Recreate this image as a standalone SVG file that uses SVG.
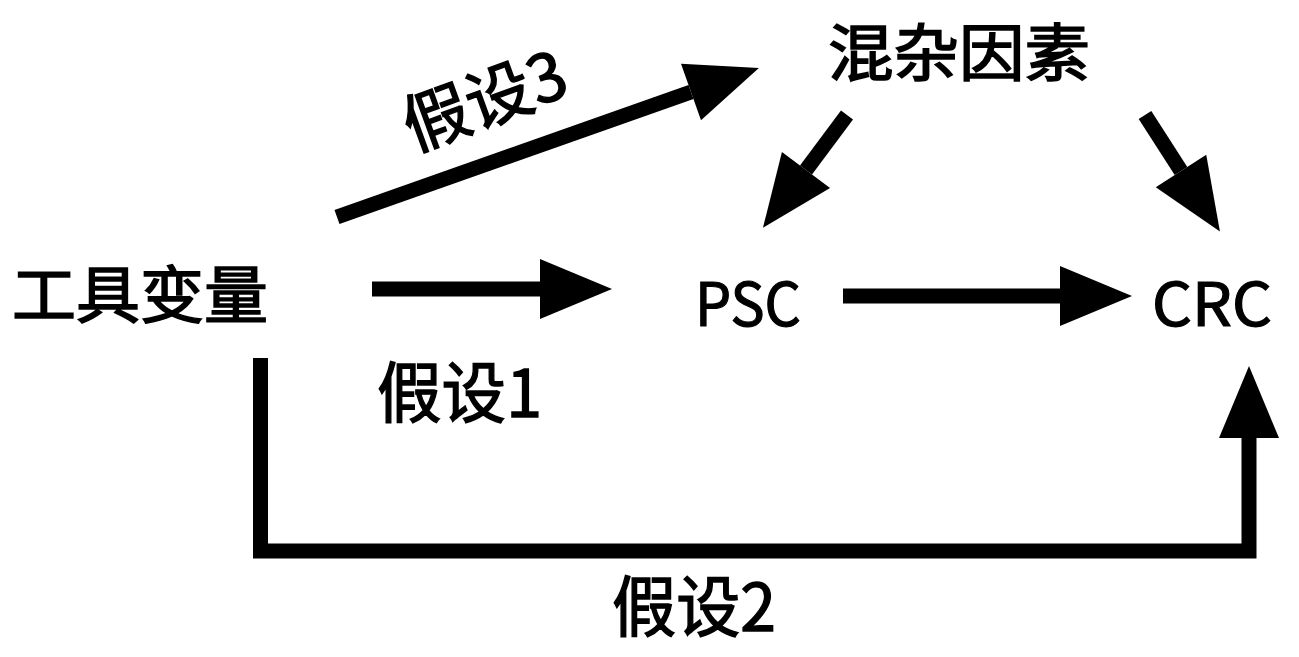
<svg xmlns="http://www.w3.org/2000/svg" width="1299" height="657" viewBox="0 0 1299 657">
<style>
.lbl{font-family:"Noto Sans CJK SC","Noto Sans",sans-serif;font-size:62px;font-weight:400;fill:#000;stroke:#000;stroke-width:1.6px}
.lat{font-family:"Noto Sans CJK SC","Noto Sans",sans-serif;font-size:60px;font-weight:400;fill:#000;stroke:#000;stroke-width:1.2px}
.hyp{font-family:"Noto Sans CJK SC","Noto Sans",sans-serif;font-size:66px;font-weight:400;fill:#000;stroke:#000;stroke-width:1.4px}
.edge{stroke:#000;stroke-width:15;fill:none;stroke-linecap:butt;stroke-linejoin:miter}
</style>
<defs>
<marker id="ah" markerUnits="userSpaceOnUse" markerWidth="74" markerHeight="60" refX="0" refY="30" orient="auto" overflow="visible">
<path d="M0,0 L72,30 L0,60 Z" fill="#000"/>
</marker>
</defs>
<rect width="1299" height="657" fill="#fff"/>
<g id="n-iv"><text class="lbl" x="12" y="318" textLength="256" lengthAdjust="spacingAndGlyphs">工具变量</text></g>
<g id="n-conf"><text class="lbl" x="828" y="76" textLength="262" lengthAdjust="spacingAndGlyphs">混杂因素</text></g>
<g id="n-psc"><text class="lat" x="748" y="326" text-anchor="middle" textLength="106" lengthAdjust="spacingAndGlyphs">PSC</text></g>
<g id="n-crc"><text class="lat" x="1212" y="326" text-anchor="middle" textLength="120" lengthAdjust="spacingAndGlyphs">CRC</text></g>
<g id="connectors">
<line class="edge" x1="372" y1="289" x2="540" y2="289" marker-end="url(#ah)"/>
<line class="edge" x1="843" y1="296" x2="1060" y2="296" marker-end="url(#ah)"/>
<line class="edge" x1="337" y1="217" x2="691" y2="92" marker-end="url(#ah)"/>
<line class="edge" x1="847" y1="115" x2="806" y2="170" marker-end="url(#ah)"/>
<line class="edge" x1="1145" y1="115" x2="1181" y2="171" marker-end="url(#ah)"/>
<path class="edge" d="M260.5,358 V551 H1249 V438" marker-end="url(#ah)"/>
</g>
<g id="labels">
<text class="hyp" x="377" y="417" textLength="165" lengthAdjust="spacingAndGlyphs">假设1</text>
<text class="hyp" x="612" y="631" textLength="164" lengthAdjust="spacingAndGlyphs">假设2</text>
<text class="hyp" x="485" y="124" text-anchor="middle" transform="rotate(-20 485 101)">假设3</text>
</g>
</svg>
